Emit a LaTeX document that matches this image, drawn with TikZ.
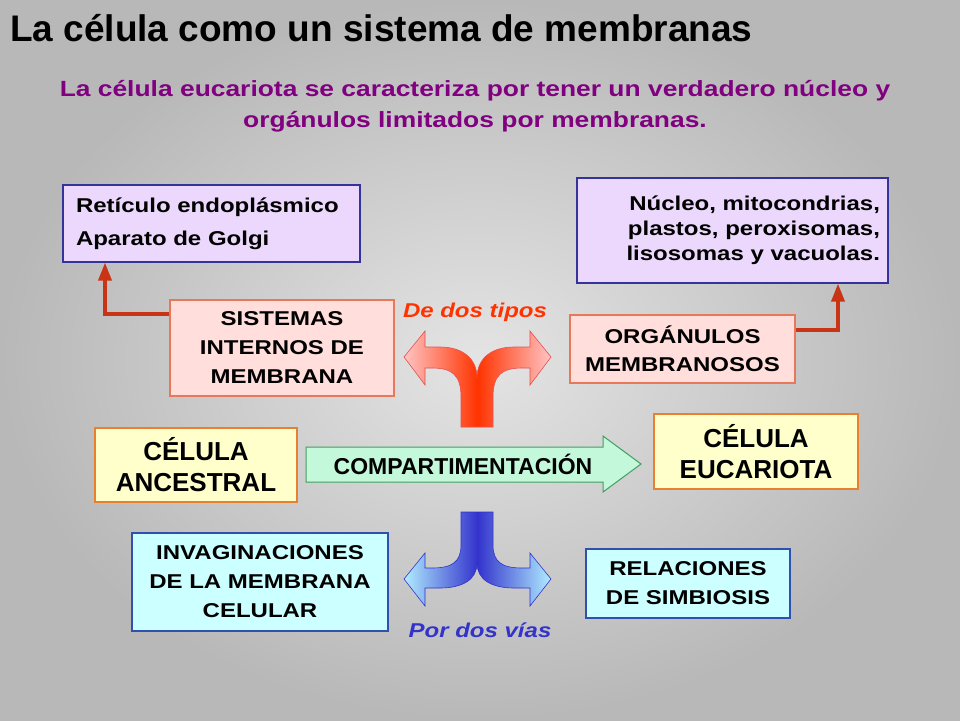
\documentclass[tikz,border=0pt]{standalone}
\usepackage{fontspec}
\setmainfont{Liberation Sans}
\newfontfamily\widesans{Liberation Sans}[FakeStretch=1.2]
\usetikzlibrary{arrows.meta}
\definecolor{bgin}{RGB}{228,228,228}
\definecolor{bgout}{RGB}{184,184,184}
\definecolor{subpurple}{RGB}{128,0,128}
\definecolor{lilac}{RGB}{236,216,252}
\definecolor{navyline}{RGB}{51,51,153}
\definecolor{pinkfill}{RGB}{255,222,220}
\definecolor{pinkline}{RGB}{232,120,90}
\definecolor{creamfill}{RGB}{255,255,204}
\definecolor{creamline}{RGB}{232,128,48}
\definecolor{cyanfill}{RGB}{204,255,255}
\definecolor{cyanline}{RGB}{48,80,176}
\definecolor{mintfill}{RGB}{196,248,218}
\definecolor{mintline}{RGB}{64,160,96}
\definecolor{connred}{RGB}{200,52,20}
\definecolor{tipsred}{RGB}{255,51,0}
\definecolor{forkpink}{RGB}{255,196,196}
\definecolor{forkline}{RGB}{230,80,80}
\definecolor{viasblue}{RGB}{51,51,204}
\definecolor{forkcyan}{RGB}{176,236,255}
\begin{document}
\begin{tikzpicture}[x=1pt,y=-1pt,
	box/.style={draw,line width=1.2pt,inner sep=0pt,align=center,
		font=\widesans\bfseries\fontsize{20}{29}\selectfont},
	lilacbox/.style={box,fill=lilac,draw=navyline},
	pinkbox/.style={box,fill=pinkfill,draw=pinkline},
	creambox/.style={box,fill=creamfill,draw=creamline,
		font=\bfseries\fontsize{26}{31}\selectfont},
	cyanbox/.style={box,fill=cyanfill,draw=cyanline},
	conn/.style={draw=connred,line width=3.6pt,-{Triangle[length=18pt,width=13pt]}}]
	\useasboundingbox (0,0) rectangle (960,720);
	\shade[inner color=bgin,outer color=bgout] (0,0) rectangle (960,720);
	% titles
	\node[anchor=base west,inner sep=0pt,font=\bfseries\fontsize{37}{44}\selectfont] (title) at (10,41) {La célula como un sistema de membranas};
	\node[align=center,text=subpurple,font=\widesans\bfseries\fontsize{22}{31}\selectfont] (sub) at (475,106) {La célula eucariota se caracteriza por tener un verdadero núcleo y\\orgánulos limitados por membranas.};
	% boxes
	\node[lilacbox,minimum width=297pt,minimum height=77pt,text width=271pt,inner xsep=13pt,align=left,
		font=\widesans\bfseries\fontsize{20}{33}\selectfont] (re) at (211.5,223.5) {Retículo endoplásmico\\Aparato de Golgi};
	\node[lilacbox,minimum width=311pt,minimum height=105pt,text width=295pt,inner xsep=8pt,align=right,
		font=\widesans\bfseries\fontsize{20}{25}\selectfont] (nuc) at (732.5,230.5) {Núcleo, mitocondrias,\\plastos, peroxisomas,\\lisosomas y vacuolas.};
	\node[pinkbox,minimum width=224pt,minimum height=96pt] (sis) at (282,348) {SISTEMAS\\INTERNOS DE\\MEMBRANA};
	\node[pinkbox,minimum width=225pt,minimum height=68pt,
		font=\widesans\bfseries\fontsize{20}{28}\selectfont] (org) at (682.5,349) {ORGÁNULOS\\MEMBRANOSOS};
	\node[creambox,minimum width=202pt,minimum height=74pt] (anc) at (196,465) {CÉLULA\\ANCESTRAL};
	\node[creambox,minimum width=204pt,minimum height=75pt] (euc) at (756,451.5) {CÉLULA\\EUCARIOTA};
	\node[cyanbox,minimum width=256pt,minimum height=98pt] (inv) at (260,582) {INVAGINACIONES\\DE LA MEMBRANA\\CELULAR};
	\node[cyanbox,minimum width=204pt,minimum height=69pt] (rel) at (688,583.5) {RELACIONES\\DE SIMBIOSIS};
	% connectors
	\draw[conn] ([yshift=34pt]sis.west) -| ([xshift=-106.5pt]re.south);
	\draw[conn] ([yshift=19pt]org.east) -| ([xshift=105.5pt]nuc.south);
	% compartimentacion arrow
	\draw[fill=mintfill,draw=mintline,line width=1pt] (306,447) -- (603,447) -- (603,436) -- (641,464)
		-- (603,492) -- (603,482) -- (306,482) -- cycle;
	\node[font=\bfseries\fontsize{23}{28}\selectfont] (comp) at (463,464) {COMPARTIMENTACIÓN};
	% forks
	\shade[left color=forkpink,right color=forkpink,middle color=tipsred,draw=forkline,line width=0.6pt]
		(461,427) -- (461,397) .. controls (461,375) and (452,368) .. (432,368) -- (425,368) -- (425,385)
		-- (404,357) -- (425,331) -- (425,347) -- (440,347) .. controls (462,347) and (477,358) .. (477,378)
		.. controls (477,358) and (492,347) .. (514,347) -- (530,347) -- (530,331) -- (551,357)
		-- (530,385) -- (530,368) -- (522,368) .. controls (502,368) and (493,375) .. (493,397)
		-- (493,427) -- cycle;
	\shade[left color=forkcyan,right color=forkcyan,middle color=viasblue,draw=viasblue,line width=0.6pt]
		(461,512) -- (461,545) .. controls (461,562) and (452,568) .. (432,568) -- (425,568) -- (425,553)
		-- (404,579) -- (425,606) -- (425,588) -- (440,588) .. controls (462,588) and (477,580) .. (477,563)
		.. controls (477,580) and (492,588) .. (514,588) -- (530,588) -- (530,606) -- (551,579)
		-- (530,553) -- (530,568) -- (522,568) .. controls (502,568) and (493,562) .. (493,545)
		-- (493,512) -- cycle;
	\node[text=tipsred,font=\widesans\bfseries\itshape\fontsize{20}{24}\selectfont] (tipos) at (475,312) {De dos tipos};
	\node[text=viasblue,font=\widesans\bfseries\itshape\fontsize{20}{24}\selectfont] (vias) at (480,630) {Por dos vías};
\end{tikzpicture}
\end{document}
